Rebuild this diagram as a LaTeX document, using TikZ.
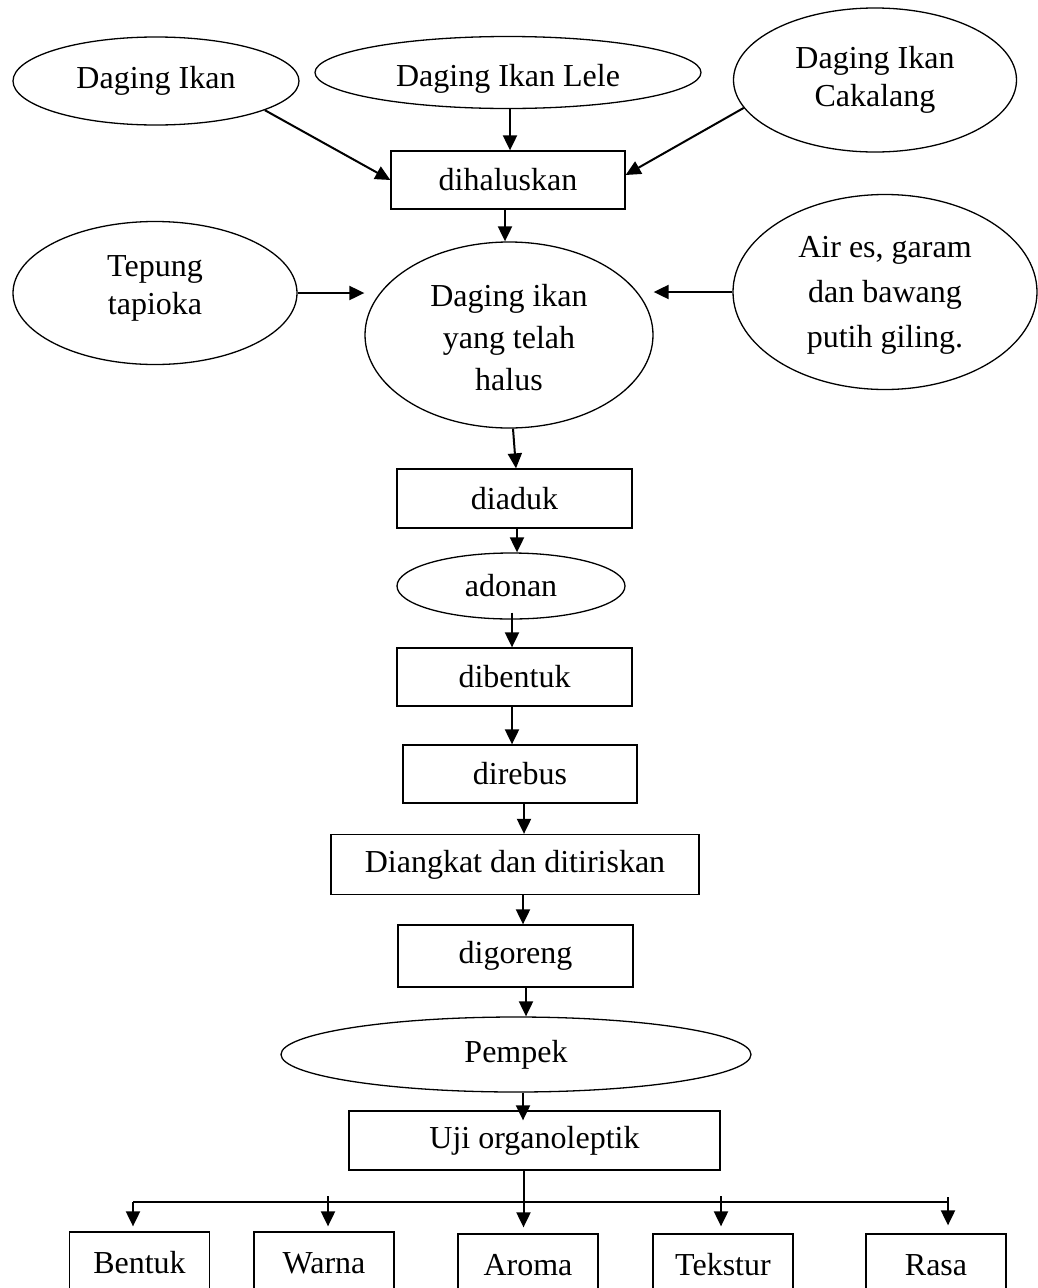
\documentclass[tikz,border=0pt]{standalone}
\usepackage{fontspec}
\setmainfont{Liberation Serif}
\usetikzlibrary{arrows.meta,calc,shapes.geometric}
\begin{document}
\begin{tikzpicture}[x=1pt,y=-1pt,
  every node/.style={font=\fontsize{32}{38}\selectfont},
  ell/.style={draw, line width=1.3pt, ellipse, inner sep=0pt, align=center},
  box/.style={draw, line width=1.3pt, rectangle, inner sep=0pt, align=center},
  arr/.style={line width=2pt, -{Triangle[length=15pt,width=14pt]}},
  ln/.style={line width=2pt}]
\useasboundingbox (0,0) rectangle (1038,1288);
\clip (0,0) rectangle (1038,1288);
% top inputs
\node[ell, minimum width=286pt, minimum height=88pt] (di1) at (156,81) {Daging Ikan};
\node[ell, minimum width=386pt, minimum height=72pt, label={[yshift=-6pt]center:Daging Ikan Lele}] (lele) at (508,72.5) {};
\node[ell, minimum width=283pt, minimum height=144pt] (cak) at (875,80) {Daging Ikan\\Cakalang};
\node[box, minimum width=234pt, minimum height=58pt] (dih) at (508,180) {dihaluskan};
\node[ell, minimum width=284pt, minimum height=143pt, label={[align=center,yshift=5pt]center:Tepung\\tapioka}] (tep) at (155,293) {};
\node[ell, minimum width=288pt, minimum height=186pt, label={[align=center,yshift=-3pt,font=\fontsize{32}{42}\selectfont]center:Daging ikan\\yang telah\\halus}] (hal) at (509,335) {};
\node[ell, minimum width=304pt, minimum height=195pt, label={[align=center,yshift=-3pt,font=\fontsize{32}{45}\selectfont]center:Air es, garam\\dan bawang\\putih giling.}] (air) at (885,292) {};
% main chain
\node[box, minimum width=235pt, minimum height=59pt] (adu) at (514.5,498.5) {diaduk};
\node[ell, minimum width=228pt, minimum height=66pt] (ado) at (511,586) {adonan};
\node[box, minimum width=235pt, minimum height=58pt] (ben) at (514.5,677) {dibentuk};
\node[box, minimum width=234pt, minimum height=58pt] (reb) at (520,774) {direbus};
\node[box, minimum width=368pt, minimum height=60pt] (ang) at (515,864.5) {Diangkat dan ditiriskan};
\node[box, minimum width=235pt, minimum height=62pt] (gor) at (515.5,956) {digoreng};
\node[ell, minimum width=470pt, minimum height=75pt] (pem) at (516,1054.5) {Pempek};
\node[box, minimum width=371pt, minimum height=59pt] (uji) at (534.5,1140.5) {Uji organoleptik};
% bottom row
\node[box, minimum width=140pt, minimum height=62pt] (bnt) at (139.5,1263) {Bentuk};
\node[box, minimum width=140pt, minimum height=62pt] (war) at (324,1263) {Warna};
\node[box, minimum width=140pt, minimum height=62pt] (aro) at (528,1265) {Aroma};
\node[box, minimum width=140pt, minimum height=62pt] (tek) at (723,1265) {Tekstur};
\node[box, minimum width=140pt, minimum height=62pt] (ras) at (936,1265) {Rasa};
% connectors
\draw[arr] (di1.-15) -- (dih.west);
\draw[arr] ($(lele.south)+(2,0)$) -- ($(dih.north)+(2,0)$);
\draw[arr] (cak.192) -- ($(dih.east)+(0,-5)$);
\draw[arr] ($(dih.south)+(-3,0)$) -- ($(hal.north)+(-4,0)$);
\draw[arr] (tep.east) -- (tep.east -| hal.west);
\draw[arr] (air.west) -- (air.west -| hal.east);
\draw[arr] ($(hal.south)+(4,0)$) -- ($(adu.north)+(1.5,0)$);
\draw[arr] ($(adu.south)+(2.5,0)$) -- ($(ado.north)+(6,0)$);
\draw[arr, shorten <=-7pt] ($(ado.south)+(1,0)$) -- ($(ben.north)+(-2.5,0)$);
\draw[arr] ($(ben.south)+(-2.5,0)$) -- ($(reb.north)+(-8,0)$);
\draw[arr] ($(reb.south)+(4,0)$) -- ($(ang.north)+(9,0)$);
\draw[arr] ($(ang.south)+(8,0)$) -- ($(gor.north)+(7.5,0)$);
\draw[arr] ($(gor.south)+(10.5,0)$) -- ($(pem.north)+(10,0)$);
\draw[arr, shorten >=-10pt] ($(pem.south)+(7,0)$) -- ($(uji.north)+(-11.5,0)$);
% branches
\coordinate (bl) at (133,1202);
\coordinate (br) at (948,1202);
\draw[ln] (bl) -- (br);
\draw[arr, shorten >=6pt] ($(uji.south)+(-11,0)$) -- ($(aro.north)+(-4.5,0)$);
\draw[arr, shorten >=5pt] (bl) -- (bl |- bnt.north);
\draw[arr, shorten >=5pt] ($(war.north)+(4,-35)$) -- ($(war.north)+(4,0)$);
\draw[arr, shorten >=7pt] ($(tek.north)+(-2,-37)$) -- ($(tek.north)+(-2,0)$);
\draw[arr, shorten >=8pt] (br |- 0,1197) -- (br |- ras.north);
\end{tikzpicture}
\end{document}
